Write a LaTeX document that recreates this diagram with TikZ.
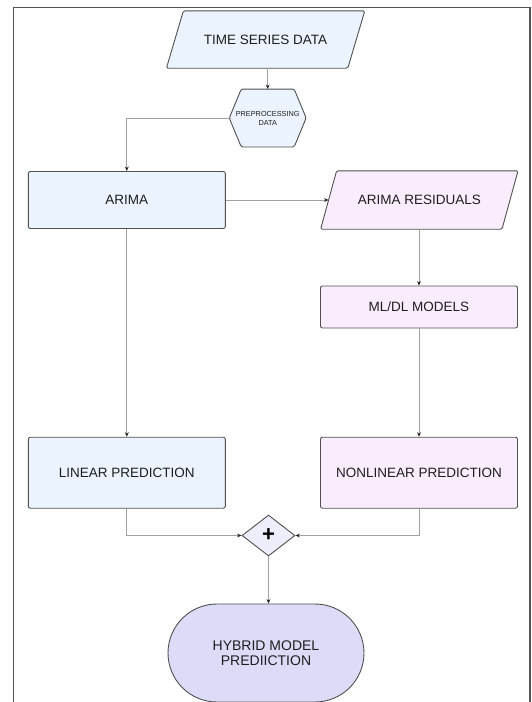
\documentclass[tikz,border=0pt]{standalone}
\usepackage{fontspec}
\setmainfont{Liberation Sans}
\usetikzlibrary{shapes.geometric,arrows.meta,backgrounds}
\definecolor{bluef}{HTML}{EBF3FE}
\definecolor{pinkf}{HTML}{F9EDFD}
\definecolor{diamf}{HTML}{EDEDFC}
\definecolor{hybf}{HTML}{DCDCF8}
\definecolor{bord}{HTML}{505050}
\definecolor{lineg}{HTML}{A0A0A0}
\definecolor{arrowc}{HTML}{222222}
\definecolor{txt}{HTML}{1E1E1E}
\definecolor{framec}{HTML}{555555}
\begin{document}
\begin{tikzpicture}[x=1pt,y=-1pt,
  lbl/.style={font=\fontsize{13.5}{16}\selectfont, text=txt, align=center},
  box/.style={lbl, rectangle, draw=bord, line width=0.9pt, rounded corners=2pt, minimum width=197pt, inner sep=0pt},
  paranode/.style={lbl, rectangle, minimum width=181pt, minimum height=57pt, inner sep=0pt},
  shapebody/.style={draw=bord, line width=0.9pt, rounded corners=1.5pt},
  conn/.style={draw=lineg, line width=0.8pt, -{Stealth[length=4.5pt,width=3.8pt,color=arrowc]}}
]
\useasboundingbox (0,0) rectangle (532,702);
\draw[framec, line width=1.6pt] (13.5,702) -- (13.5,7.5) -- (530,7.5) -- (530,702);

\node[paranode] (tsd) at (265.6,39.5) {TIME SERIES DATA};
\node[lbl, font=\fontsize{7.3}{9}\selectfont, minimum width=76.5pt, minimum height=57.5pt, inner sep=0pt] (hex) at (267.7,118) {PREPROCESSING\\DATA};
\node[box, fill=bluef, minimum height=57pt] (arima) at (126.8,200) {ARIMA};
\node[paranode, minimum height=58pt] (resid) at (419.3,200) {ARIMA RESIDUALS};
\node[box, fill=pinkf, minimum height=42pt] (mldl) at (419,307) {ML/DL MODELS};
\node[box, fill=bluef, minimum height=71pt] (linear) at (126.8,472.7) {LINEAR PREDICTION};
\node[box, fill=pinkf, minimum height=71pt] (nonlin) at (419,472.7) {NONLINEAR PREDICTION};
\node[diamond, draw=bord, line width=0.9pt, fill=diamf, minimum width=53pt, minimum height=41pt, inner sep=0pt, font=\fontsize{22}{22}\selectfont\bfseries, text=black] (sum) at (268.5,535.5) {+};
\node[rectangle, rounded corners=49pt, draw=bord, line width=0.9pt, fill=hybf, minimum width=196pt, minimum height=98pt, font=\fontsize{14}{14.7}\selectfont, text=txt, align=center] (hyb) at (266,653) {HYBRID MODEL\\PREDIICTION};

\begin{pgfonlayer}{background}
\path[shapebody, fill=bluef] (hex.west) -- ([xshift=12pt]hex.north west) -- ([xshift=-12pt]hex.north east) -- (hex.east) -- ([xshift=-12pt]hex.south east) -- ([xshift=12pt]hex.south west) -- cycle;
\path[shapebody, fill=bluef] ([xshift=8.5pt]tsd.north west) -- ([xshift=8.5pt]tsd.north east) -- ([xshift=-8.5pt]tsd.south east) -- ([xshift=-8.5pt]tsd.south west) -- cycle;
\path[shapebody, fill=pinkf] ([xshift=8pt]resid.north west) -- ([xshift=8pt]resid.north east) -- ([xshift=-8pt]resid.south east) -- ([xshift=-8pt]resid.south west) -- cycle;
\end{pgfonlayer}

\draw[conn] (hex.north |- tsd.south) -- (hex.north);
\draw[conn] (hex.west) -| (arima.north);
\draw[conn] (arima.east) -- (resid.west);
\draw[conn] (mldl.north |- resid.south) -- (mldl.north);
\draw[conn] (arima.south) -- (linear.north);
\draw[conn] (mldl.south) -- (nonlin.north);
\draw[conn] (linear.south) |- (sum.west);
\draw[conn] (nonlin.south) |- (sum.east);
\draw[conn] (sum.south) -- (sum.south |- hyb.north);
\end{tikzpicture}
\end{document}
